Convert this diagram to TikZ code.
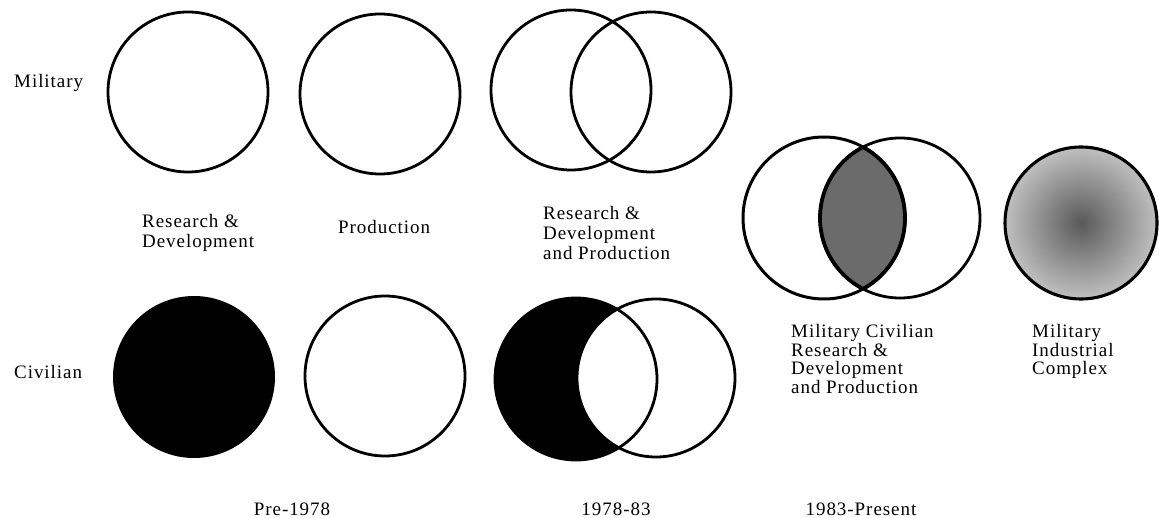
\documentclass[tikz,border=0pt]{standalone}
\usepackage{fontspec}
\setmainfont{Liberation Serif}[LetterSpace=5]
\begin{document}
\begin{tikzpicture}[x=1pt,y=-1pt,
  ring/.style={draw=black, line width=2.8pt},
  lens/.style={draw=black, line width=3.8pt},
  lbl/.style={font=\fontsize{19}{20}\selectfont, inner sep=0pt, align=left, anchor=base west},
  yr/.style={font=\fontsize{19}{20}\selectfont, inner sep=0pt, anchor=base}]
\useasboundingbox (0,0) rectangle (1159,518);
% row labels
\node[lbl] (mil) at (14,88) {Military};
\node[lbl] (civ) at (14,378) {Civilian};
% Pre-1978, military
\draw[ring] (188,92) circle[radius=80pt];
\draw[ring] (380,94) circle[radius=80pt];
% Pre-1978, civilian
\fill[black] (194,377) circle[radius=81pt];
\draw[ring] (385,376) circle[radius=80pt];
% 1978-83, military
\draw[ring] (571,90) circle[radius=80pt];
\draw[ring] (651,92) circle[radius=80pt];
% 1978-83, civilian
\fill[black] (576,379) circle[radius=81pt];
\begin{scope}
  \clip (656,378) circle[radius=79pt];
  \fill[white] (576,379) circle[radius=81pt];
\end{scope}
\draw[ring] (576,379) circle[radius=81pt];
\draw[ring] (656,378) circle[radius=79pt];
% 1983-Present
\begin{scope}
  \clip (824,218) circle[radius=81pt];
  \fill[black!58] (900,218) circle[radius=80pt];
  \draw[lens] (900,218) circle[radius=80pt];
\end{scope}
\begin{scope}
  \clip (900,218) circle[radius=80pt];
  \draw[lens] (824,218) circle[radius=81pt];
\end{scope}
\draw[ring, line width=3pt] (824,218) circle[radius=81pt];
\draw[ring] (900,218) circle[radius=80pt];
\shade[inner color=black!65, outer color=black!25] (1081,223) circle[radius=76pt];
\draw[ring, line width=3.1pt] (1081,223) circle[radius=76pt];
% column labels (anchored at the baseline of the last line)
\node[lbl] (rd) at (142,248) {Research \&\\Development};
\node[lbl] (prod) at (338,234) {Production};
\node[lbl] (rdp) at (543,260) {Research \&\\Development\\and Production};
\node[lbl, font=\fontsize{19}{19}\selectfont] (mc) at (791,394) {Military Civilian\\Research \&\\Development\\and Production};
\node[lbl, font=\fontsize{19}{19}\selectfont] (mic) at (1032,375) {Military\\Industrial\\Complex};
% period labels
\node[yr] (p1) at (292,515) {Pre-1978};
\node[yr] (p2) at (616,515) {1978-83};
\node[yr] (p3) at (861,515) {1983-Present};
\end{tikzpicture}
\end{document}
